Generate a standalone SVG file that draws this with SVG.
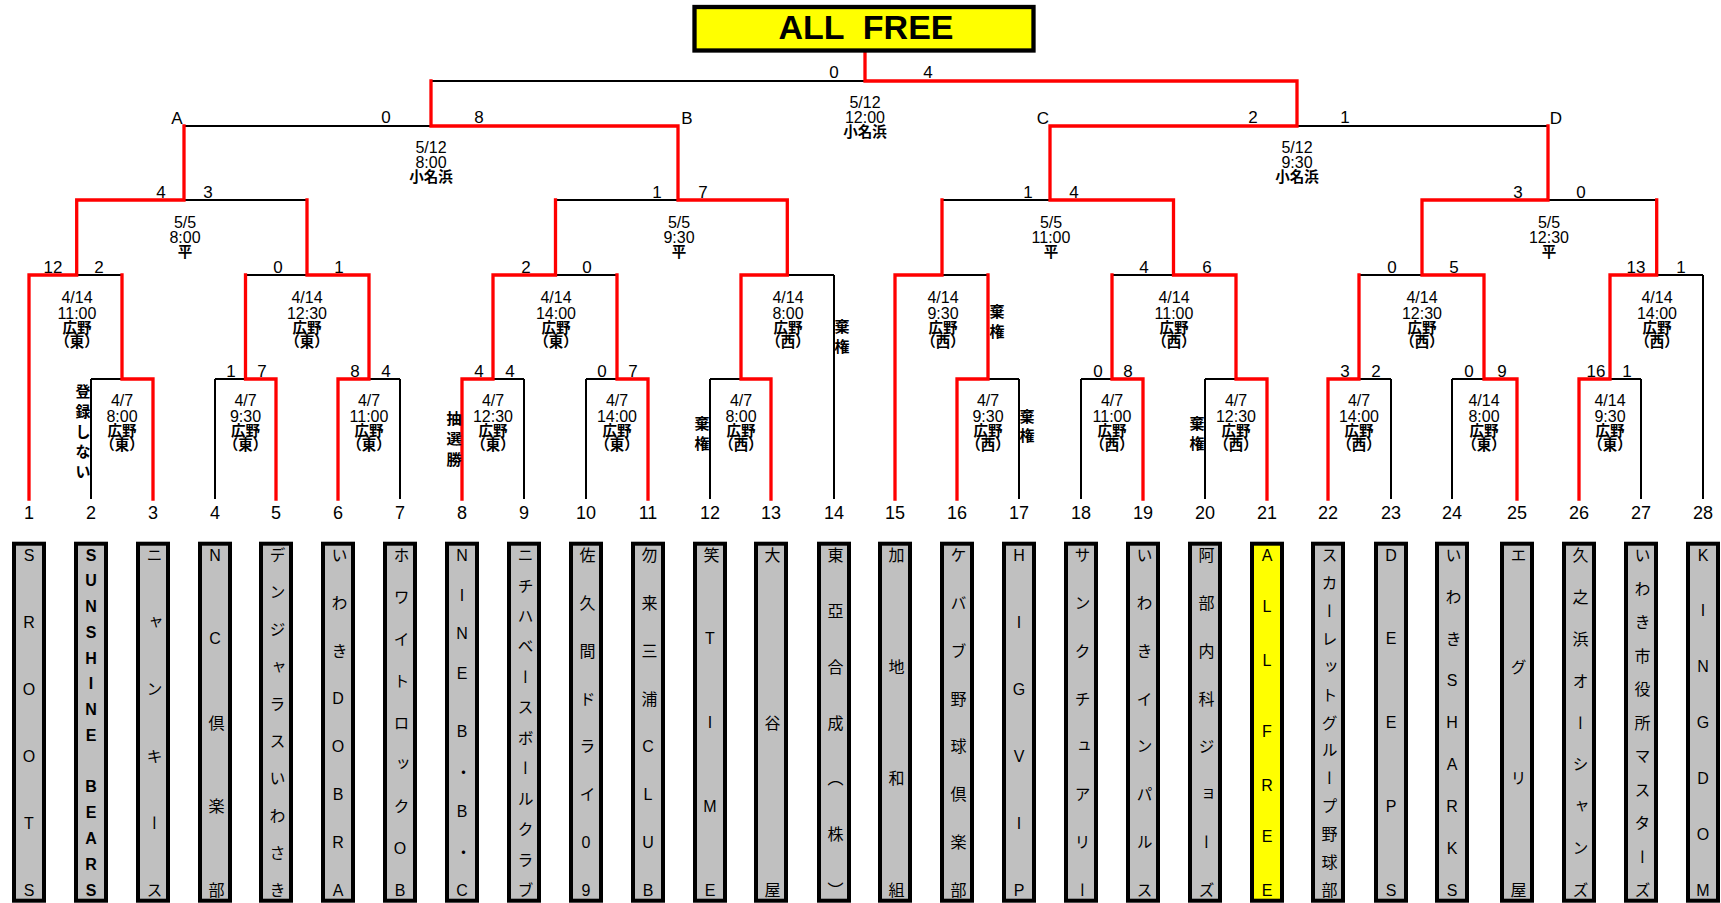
<svg xmlns="http://www.w3.org/2000/svg" width="1721" height="903" viewBox="0 0 1721 903">
<style>
.b{fill:none;stroke:#000;stroke-width:2}
.r{fill:none;stroke:#f00;stroke-width:3.3;stroke-linejoin:miter;stroke-linecap:square}
.s{font-family:"Liberation Sans Narrow","Liberation Sans","Noto Sans CJK JP",sans-serif;font-size:17px;text-anchor:middle;dominant-baseline:central;fill:#000}
.i{font-family:"Liberation Sans Narrow","Liberation Sans","Noto Sans CJK JP",sans-serif;font-size:16px;text-anchor:middle;dominant-baseline:central;fill:#000}
.i tspan:nth-child(n+3){font-size:14.5px;font-weight:bold}
.t{font-family:"Liberation Sans Narrow","Liberation Sans","Noto Sans CJK JP",sans-serif;font-size:18px;text-anchor:middle;dominant-baseline:central;fill:#000}
.v{font-family:"Noto Sans CJK JP",sans-serif;font-size:15px;font-weight:bold;text-anchor:middle;dominant-baseline:central;fill:#000}
.box{fill:#c0c0c0;stroke:#000;stroke-width:4}
.nm{font-family:"Liberation Sans","Noto Sans CJK JP",sans-serif;font-size:16px;writing-mode:vertical-rl;text-orientation:upright;text-anchor:middle;fill:#000}
</style>

<g id="connectors">
<path class="b" d="M91 379H153M215 379H276M338 379H400M462 379H524M586 379H648M710 379H771M957 379H1019M1081 379H1143M1205 379H1267M1328 379H1391M1452 379H1517M1579 379H1641
M29 275H122M245.5 275H369M493 275H617M741 275H834M895 275H988M1112 275H1236M1359 275H1484M1610 275H1703
M76.7 200H307M555.5 200H787.3M942 200H1173.5M1422 200H1656.7
M184 126H678M1050 126H1548M431 81H1297
M91 499V379M215 499V379M400 499V379M524 499V379M586 499V379M710 499V379M1019 499V379M1081 499V379M1205 499V379M1391 499V379M1452 499V379M1641 499V379M834 499V275M1703 499V275"/>
<path class="r" d="M29 499V275H76.7V200H184V126"/>
<path class="r" d="M153 499V379H122V275"/>
<path class="r" d="M276 499V379H245.5V275"/>
<path class="r" d="M338 499V379H369V275H307V200"/>
<path class="r" d="M462 499V379H493V275H555.5V200"/>
<path class="r" d="M648 499V379H617V275"/>
<path class="r" d="M771 499V379H741V275H787.3V200H678V126H431V81"/>
<path class="r" d="M895 499V275H942V200"/>
<path class="r" d="M957 499V379H988V275"/>
<path class="r" d="M1143 499V379H1112V275"/>
<path class="r" d="M1267 499V379H1236V275H1173.5V200H1050V126H1297V81H865V52"/>
<path class="r" d="M1328 499V379H1359V275"/>
<path class="r" d="M1517 499V379H1484V275H1422V200H1548V126"/>
<path class="r" d="M1579 499V379H1610V275H1656.7V200"/>
</g>

<g id="title">
<rect x="694.5" y="7" width="339" height="43.5" fill="#ff0" stroke="#000" stroke-width="4.3"/>
<text x="866" y="39" font-family="Liberation Sans, sans-serif" font-size="34" font-weight="bold" text-anchor="middle" style="white-space:pre">ALL  FREE</text>
</g>

<g id="round-labels">
<text class="s" x="177" y="118">A</text>
<text class="s" x="687" y="118">B</text>
<text class="s" x="1043" y="118">C</text>
<text class="s" x="1556" y="118">D</text>
</g>

<g id="scores">
<text class="s" x="834" y="72">0</text><text class="s" x="928" y="72">4</text>
<text class="s" x="386" y="117">0</text><text class="s" x="479" y="117">8</text>
<text class="s" x="1253" y="117">2</text><text class="s" x="1345" y="117">1</text>
<text class="s" x="161" y="192">4</text><text class="s" x="208" y="192">3</text>
<text class="s" x="657" y="192">1</text><text class="s" x="703" y="192">7</text>
<text class="s" x="1028" y="192">1</text><text class="s" x="1074" y="192">4</text>
<text class="s" x="1518" y="192">3</text><text class="s" x="1581" y="192">0</text>
<text class="s" x="53" y="267">12</text><text class="s" x="99" y="267">2</text>
<text class="s" x="278" y="267">0</text><text class="s" x="339" y="267">1</text>
<text class="s" x="526" y="267">2</text><text class="s" x="587" y="267">0</text>
<text class="s" x="1144" y="267">4</text><text class="s" x="1207" y="267">6</text>
<text class="s" x="1392" y="267">0</text><text class="s" x="1454" y="267">5</text>
<text class="s" x="1636" y="267">13</text><text class="s" x="1681" y="267">1</text>
<text class="s" x="231" y="371">1</text><text class="s" x="262" y="371">7</text>
<text class="s" x="355" y="371">8</text><text class="s" x="386" y="371">4</text>
<text class="s" x="479" y="371">4</text><text class="s" x="510" y="371">4</text>
<text class="s" x="602" y="371">0</text><text class="s" x="633" y="371">7</text>
<text class="s" x="1098" y="371">0</text><text class="s" x="1128" y="371">8</text>
<text class="s" x="1345" y="371">3</text><text class="s" x="1376" y="371">2</text>
<text class="s" x="1469" y="371">0</text><text class="s" x="1502" y="371">9</text>
<text class="s" x="1596" y="371">16</text><text class="s" x="1627" y="371">1</text>
</g>

<g id="match-info">
<text class="i"><tspan x="865" y="102">5/12</tspan><tspan x="865" y="117">12:00</tspan><tspan x="865" y="132">小名浜</tspan></text>
<text class="i"><tspan x="431" y="147">5/12</tspan><tspan x="431" y="162">8:00</tspan><tspan x="431" y="177">小名浜</tspan></text>
<text class="i"><tspan x="1297" y="147">5/12</tspan><tspan x="1297" y="162">9:30</tspan><tspan x="1297" y="177">小名浜</tspan></text>
<text class="i"><tspan x="185" y="222">5/5</tspan><tspan x="185" y="237">8:00</tspan><tspan x="185" y="252">平</tspan></text>
<text class="i"><tspan x="679" y="222">5/5</tspan><tspan x="679" y="237">9:30</tspan><tspan x="679" y="252">平</tspan></text>
<text class="i"><tspan x="1051" y="222">5/5</tspan><tspan x="1051" y="237">11:00</tspan><tspan x="1051" y="252">平</tspan></text>
<text class="i"><tspan x="1549" y="222">5/5</tspan><tspan x="1549" y="237">12:30</tspan><tspan x="1549" y="252">平</tspan></text>
<text class="i"><tspan x="77" y="297">4/14</tspan><tspan x="77" y="313">11:00</tspan><tspan x="77" y="328">広野</tspan><tspan x="77" y="342">（東）</tspan></text>
<text class="i"><tspan x="307" y="297">4/14</tspan><tspan x="307" y="313">12:30</tspan><tspan x="307" y="328">広野</tspan><tspan x="307" y="342">（東）</tspan></text>
<text class="i"><tspan x="556" y="297">4/14</tspan><tspan x="556" y="313">14:00</tspan><tspan x="556" y="328">広野</tspan><tspan x="556" y="342">（東）</tspan></text>
<text class="i"><tspan x="788" y="297">4/14</tspan><tspan x="788" y="313">8:00</tspan><tspan x="788" y="328">広野</tspan><tspan x="788" y="342">（西）</tspan></text>
<text class="i"><tspan x="943" y="297">4/14</tspan><tspan x="943" y="313">9:30</tspan><tspan x="943" y="328">広野</tspan><tspan x="943" y="342">（西）</tspan></text>
<text class="i"><tspan x="1174" y="297">4/14</tspan><tspan x="1174" y="313">11:00</tspan><tspan x="1174" y="328">広野</tspan><tspan x="1174" y="342">（西）</tspan></text>
<text class="i"><tspan x="1422" y="297">4/14</tspan><tspan x="1422" y="313">12:30</tspan><tspan x="1422" y="328">広野</tspan><tspan x="1422" y="342">（西）</tspan></text>
<text class="i"><tspan x="1657" y="297">4/14</tspan><tspan x="1657" y="313">14:00</tspan><tspan x="1657" y="328">広野</tspan><tspan x="1657" y="342">（西）</tspan></text>
<text class="i"><tspan x="122" y="400">4/7</tspan><tspan x="122" y="416">8:00</tspan><tspan x="122" y="431">広野</tspan><tspan x="122" y="445">（東）</tspan></text>
<text class="i"><tspan x="245.5" y="400">4/7</tspan><tspan x="245.5" y="416">9:30</tspan><tspan x="245.5" y="431">広野</tspan><tspan x="245.5" y="445">（東）</tspan></text>
<text class="i"><tspan x="369" y="400">4/7</tspan><tspan x="369" y="416">11:00</tspan><tspan x="369" y="431">広野</tspan><tspan x="369" y="445">（東）</tspan></text>
<text class="i"><tspan x="493" y="400">4/7</tspan><tspan x="493" y="416">12:30</tspan><tspan x="493" y="431">広野</tspan><tspan x="493" y="445">（東）</tspan></text>
<text class="i"><tspan x="617" y="400">4/7</tspan><tspan x="617" y="416">14:00</tspan><tspan x="617" y="431">広野</tspan><tspan x="617" y="445">（東）</tspan></text>
<text class="i"><tspan x="741" y="400">4/7</tspan><tspan x="741" y="416">8:00</tspan><tspan x="741" y="431">広野</tspan><tspan x="741" y="445">（西）</tspan></text>
<text class="i"><tspan x="988" y="400">4/7</tspan><tspan x="988" y="416">9:30</tspan><tspan x="988" y="431">広野</tspan><tspan x="988" y="445">（西）</tspan></text>
<text class="i"><tspan x="1112" y="400">4/7</tspan><tspan x="1112" y="416">11:00</tspan><tspan x="1112" y="431">広野</tspan><tspan x="1112" y="445">（西）</tspan></text>
<text class="i"><tspan x="1236" y="400">4/7</tspan><tspan x="1236" y="416">12:30</tspan><tspan x="1236" y="431">広野</tspan><tspan x="1236" y="445">（西）</tspan></text>
<text class="i"><tspan x="1359" y="400">4/7</tspan><tspan x="1359" y="416">14:00</tspan><tspan x="1359" y="431">広野</tspan><tspan x="1359" y="445">（西）</tspan></text>
<text class="i"><tspan x="1484" y="400">4/14</tspan><tspan x="1484" y="416">8:00</tspan><tspan x="1484" y="431">広野</tspan><tspan x="1484" y="445">（東）</tspan></text>
<text class="i"><tspan x="1610" y="400">4/14</tspan><tspan x="1610" y="416">9:30</tspan><tspan x="1610" y="431">広野</tspan><tspan x="1610" y="445">（東）</tspan></text>
</g>

<g id="notes">
<text class="v" x="83 83 83 83 83" y="390 410 430 450 470">登録しない</text>
<text class="v" x="454 454 454" y="417 437 458">抽選勝</text>
<text class="v" x="702 702" y="422 442">棄権</text>
<text class="v" x="842 842" y="325 345">棄権</text>
<text class="v" x="997 997" y="310 330">棄権</text>
<text class="v" x="1027 1027" y="415 434">棄権</text>
<text class="v" x="1197 1197" y="422 442">棄権</text>
</g>

<g id="team-1"><rect class="box" x="14" y="543.7" width="30" height="357"/><text class="nm" x="29" y="555 622 689 756 823 890">SROOTS</text><text class="t" x="29" y="513">1</text></g>
<g id="team-2"><rect class="box" x="76" y="543.7" width="30" height="357"/><text class="nm" x="91" y="555 580.8 606.5 632.3 658.1 683.8 709.6 735.4 761.2 786.9 812.7 838.5 864.2 890" font-weight="bold">SUNSHINE BEARS</text><text class="t" x="91" y="513">2</text></g>
<g id="team-3"><rect class="box" x="138" y="543.7" width="30" height="357"/><text class="nm" x="153" y="555 622 689 756 823 890">ニャンキース</text><text class="t" x="153" y="513">3</text></g>
<g id="team-4"><rect class="box" x="200" y="543.7" width="30" height="357"/><text class="nm" x="215" y="555 638.75 722.5 806.25 890">NC倶楽部</text><text class="t" x="215" y="513">4</text></g>
<g id="team-5"><rect class="box" x="261" y="543.7" width="30" height="357"/><text class="nm" x="276" y="555 592.2 629.4 666.7 703.9 741.1 778.3 815.6 852.8 890">デンジャラスいわさき</text><text class="t" x="276" y="513">5</text></g>
<g id="team-6"><rect class="box" x="323" y="543.7" width="30" height="357"/><text class="nm" x="338" y="555 602.9 650.7 698.6 746.4 794.3 842.1 890">いわきDOBRA</text><text class="t" x="338" y="513">6</text></g>
<g id="team-7"><rect class="box" x="385" y="543.7" width="30" height="357"/><text class="nm" x="400" y="555 596.9 638.75 680.6 722.5 764.4 806.25 848.1 890">ホワイトロックOB</text><text class="t" x="400" y="513">7</text></g>
<g id="team-8"><rect class="box" x="447" y="543.7" width="30" height="357"/><text class="nm" x="462" y="555 595 633 673 702 731.7 771.7 811.7 851.7 890">NINE B・B・C</text><text class="t" x="462" y="513">8</text></g>
<g id="team-9"><rect class="box" x="509" y="543.7" width="30" height="357"/><text class="nm" x="524" y="555 585.5 615.9 646.4 676.8 707.3 737.7 768.2 798.6 829.1 859.5 890">ニチハベースボールクラブ</text><text class="t" x="524" y="513">9</text></g>
<g id="team-10"><rect class="box" x="571" y="543.7" width="30" height="357"/><text class="nm" x="586" y="555 602.9 650.7 698.6 746.4 794.3 842.1 890">佐久間ドライ09</text><text class="t" x="586" y="513">10</text></g>
<g id="team-11"><rect class="box" x="633" y="543.7" width="30" height="357"/><text class="nm" x="648" y="555 602.9 650.7 698.6 746.4 794.3 842.1 890">勿来三浦CLUB</text><text class="t" x="648" y="513">11</text></g>
<g id="team-12"><rect class="box" x="695" y="543.7" width="30" height="357"/><text class="nm" x="710" y="555 638.75 722.5 806.25 890">笑TIME</text><text class="t" x="710" y="513">12</text></g>
<g id="team-13"><rect class="box" x="756" y="543.7" width="30" height="357"/><text class="nm" x="771" y="555 722.5 890">大谷屋</text><text class="t" x="771" y="513">13</text></g>
<g id="team-14"><rect class="box" x="819" y="543.7" width="30" height="357"/><text class="nm" x="834" y="555 610.8 666.7 722.5 778.3 834.2 890">東亞合成（株）</text><text class="t" x="834" y="513">14</text></g>
<g id="team-15"><rect class="box" x="880" y="543.7" width="30" height="357"/><text class="nm" x="895" y="555 666.7 778.3 890">加地和組</text><text class="t" x="895" y="513">15</text></g>
<g id="team-16"><rect class="box" x="942" y="543.7" width="30" height="357"/><text class="nm" x="957" y="555 602.9 650.7 698.6 746.4 794.3 842.1 890">ケバブ野球倶楽部</text><text class="t" x="957" y="513">16</text></g>
<g id="team-17"><rect class="box" x="1004" y="543.7" width="30" height="357"/><text class="nm" x="1019" y="555 622 689 756 823 890">HIGVIP</text><text class="t" x="1019" y="513">17</text></g>
<g id="team-18"><rect class="box" x="1066" y="543.7" width="30" height="357"/><text class="nm" x="1081" y="555 602.9 650.7 698.6 746.4 794.3 842.1 890">サンクチュアリー</text><text class="t" x="1081" y="513">18</text></g>
<g id="team-19"><rect class="box" x="1128" y="543.7" width="30" height="357"/><text class="nm" x="1143" y="555 602.9 650.7 698.6 746.4 794.3 842.1 890">いわきインパルス</text><text class="t" x="1143" y="513">19</text></g>
<g id="team-20"><rect class="box" x="1190" y="543.7" width="30" height="357"/><text class="nm" x="1205" y="555 602.9 650.7 698.6 746.4 794.3 842.1 890">阿部内科ジョーズ</text><text class="t" x="1205" y="513">20</text></g>
<g id="team-21"><rect class="box" x="1252" y="543.7" width="30" height="357" style="fill:#ff0"/><text class="nm" x="1267" y="555 606.7 660 696 731.7 785 836.7 890">ALL FREE</text><text class="t" x="1267" y="513">21</text></g>
<g id="team-22"><rect class="box" x="1313" y="543.7" width="30" height="357"/><text class="nm" x="1328" y="555 582.9 610.8 638.75 666.7 694.6 722.5 750.4 778.3 806.25 834.2 862.1 890">スカーレットグループ野球部</text><text class="t" x="1328" y="513">22</text></g>
<g id="team-23"><rect class="box" x="1376" y="543.7" width="30" height="357"/><text class="nm" x="1391" y="555 638.75 722.5 806.25 890">DEEPS</text><text class="t" x="1391" y="513">23</text></g>
<g id="team-24"><rect class="box" x="1437" y="543.7" width="30" height="357"/><text class="nm" x="1452" y="555 596.9 638.75 680.6 722.5 764.4 806.25 848.1 890">いわきSHARKS</text><text class="t" x="1452" y="513">24</text></g>
<g id="team-25"><rect class="box" x="1502" y="543.7" width="30" height="357"/><text class="nm" x="1517" y="555 666.7 778.3 890">エグリ屋</text><text class="t" x="1517" y="513">25</text></g>
<g id="team-26"><rect class="box" x="1564" y="543.7" width="30" height="357"/><text class="nm" x="1579" y="555 596.9 638.75 680.6 722.5 764.4 806.25 848.1 890">久之浜オーシャンズ</text><text class="t" x="1579" y="513">26</text></g>
<g id="team-27"><rect class="box" x="1626" y="543.7" width="30" height="357"/><text class="nm" x="1641" y="555 588.5 622 655.5 689 722.5 756 789.5 823 856.5 890">いわき市役所マスターズ</text><text class="t" x="1641" y="513">27</text></g>
<g id="team-28"><rect class="box" x="1688" y="543.7" width="30" height="357"/><text class="nm" x="1703" y="555 610.8 666.7 722.5 778.3 834.2 890">KINGDOM</text><text class="t" x="1703" y="513">28</text></g>
</svg>
